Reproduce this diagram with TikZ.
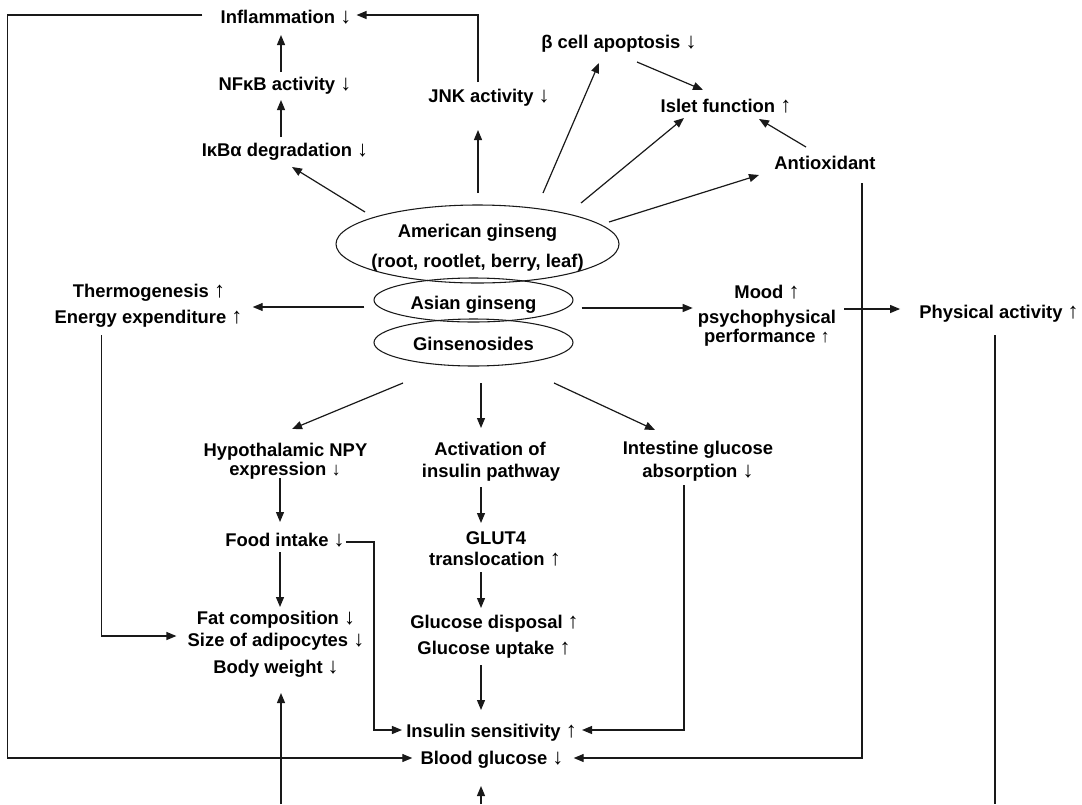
\documentclass[tikz,border=0pt]{standalone}
\usepackage{fontspec}
\setmainfont{Liberation Sans}
\usetikzlibrary{arrows.meta,shapes.geometric,calc}
\newcommand\arrdn{{\mdseries\fontsize{16.5}{16.5}\selectfont ↓}}
\newcommand\arrup{{\mdseries\fontsize{16.5}{16.5}\selectfont ↑}}
\newcommand\arrdnsm{{\mdseries ↓}}
\newcommand\arrupsm{{\mdseries ↑}}
\begin{document}
\begin{tikzpicture}[x=0.75pt,y=-0.75pt,
  txt/.style={font=\bfseries\fontsize{13.8}{16.5}\selectfont, inner sep=0pt, text height=10.5pt, text depth=2.9pt},
  ell/.style={draw=black!90, ellipse, line width=0.8pt, inner sep=0pt, font=\bfseries\fontsize{13.8}{16.5}\selectfont},
  conn/.style={line width=0.9pt, draw=black!90},
  arr/.style={conn, -{Triangle[length=7.5pt,width=6pt]}},
]
\useasboundingbox (0,0) rectangle (1082,804);

% top nodes
\node[txt] (infl) at (286,18) {Inflammation \arrdn};
\node[txt] (nfkb) at (285,85) {NFκB activity \arrdn};
\node[txt] (ikba) at (285,151) {IκBα degradation \arrdn};
\node[txt] (jnk) at (489,97) {JNK activity \arrdn};
\node[txt] (beta) at (619,43) {β cell apoptosis \arrdn};
\node[txt] (islet) at (726,107) {Islet function \arrup};
\node[txt] (antiox) at (825,164) {Antioxidant};

% ellipses
\node[ell, minimum width=212.25pt, minimum height=58.5pt] (amer) at (477.5,244) {};
\node[txt] (amer1) at (477.5,232) {American ginseng};
\node[txt] (amer2) at (477.5,262) {(root, rootlet, berry, leaf)};
\node[ell, minimum width=149.25pt, minimum height=33pt, text height=17.1pt, text depth=2.9pt] (asian) at (473.5,300) {Asian ginseng};
\node[ell, minimum width=149.25pt, minimum height=35.25pt, text height=14.9pt, text depth=2.9pt] (gins) at (473.5,342.5) {Ginsenosides};

% middle row
\node[txt] (thermo) at (149,292) {Thermogenesis \arrup};
\node[txt] (energy) at (148.5,318) {Energy expenditure \arrup};
\node[txt] (mood) at (767,293) {Mood \arrup};
\node[txt] (psy) at (767,318) {psychophysical};
\node[txt] (perf) at (767,337) {performance \arrupsm};
\node[txt] (phys) at (999,313) {Physical activity \arrup};

% lower part
\node[txt] (npy1) at (285.5,451) {Hypothalamic NPY};
\node[txt] (npy2) at (285,470) {expression \arrdnsm};
\node[txt] (act1) at (490,450) {Activation of};
\node[txt] (act2) at (491,472) {insulin pathway};
\node[txt] (int1) at (698,449) {Intestine glucose};
\node[txt] (int2) at (698,472) {absorption \arrdn};
\node[txt] (food) at (285,541) {Food intake \arrdn};
\node[txt] (glut1) at (496,539) {GLUT4};
\node[txt] (glut2) at (495,560) {translocation \arrup};
\node[txt] (fat1) at (276,619) {Fat composition \arrdn};
\node[txt] (fat2) at (276,641) {Size of adipocytes \arrdn};
\node[txt] (fat3) at (276,668) {Body weight \arrdn};
\node[txt] (gd1) at (494.5,623) {Glucose disposal \arrup};
\node[txt] (gd2) at (494,649) {Glucose uptake \arrup};
\node[txt] (ins) at (491.5,732) {Insulin sensitivity \arrup};
\node[txt] (bg) at (492,759) {Blood glucose \arrdn};

\coordinate (lrail) at (7.5,400);
\coordinate (physend) at (995,804);
\coordinate (bgsrc) at (481,804);
\coordinate (fatsrc) at (281,804);

% connectors
\draw[arr] ($(infl.west)+(-18,-3)$) -| (lrail) |- ($(bg.west)+(-8,-1)$);
\draw[arr] ($(nfkb)+(-4,-13)$) -- ($(infl)+(-5,17)$);
\draw[arr] ($(ikba)+(-4,-14)$) -- ($(nfkb)+(-4,15)$);
\draw[arr] ($(amer)+(-112.5,-32)$) -- ($(ikba)+(7,16)$);
\draw[arr] ($(amer)+(0.5,-51)$) -- ($(jnk)+(-11,33)$);
\draw[arr] ($(jnk)+(-11,-15)$) |- ($(infl.east)+(5,-3)$);
\draw[arr] ($(amer)+(65.5,-51)$) -- ($(beta)+(-20,20)$);
\draw[arr] ($(beta)+(18,19)$) -- ($(islet)+(-23,-17)$);
\draw[arr] ($(amer)+(103.5,-41)$) -- ($(islet)+(-42,11)$);
\draw[arr] ($(antiox)+(-19,-17)$) -- ($(islet)+(33,12)$);
\draw[arr] ($(amer)+(131.5,-22)$) -- ($(antiox)+(-66,11)$);
\draw[arr] ($(antiox)+(37,19)$) |- ($(bg.east)+(10,-1)$);

\draw[arr] ($(asian.west)+(-9,7)$) -- ($(energy.east)+(10,-11)$);
\draw[arr] ($(asian.east)+(8,8)$) -- ($(psy.west)+(-5,-10)$);
\draw[arr] ($(psy.east)+(8,-9)$) -- ($(phys.west)+(-19,-4)$);
\draw[conn] ($(phys)+(-4,22)$) -- (physend);
\draw[arr] ($(energy)+(-47,17)$) |- ($(fat2.west)+(-11,-5)$);

\draw[arr] ($(gins)+(-70.5,40.5)$) -- ($(npy1)+(6.5,-22)$);
\draw[arr] ($(gins)+(7.5,40.5)$) -- ($(act1)+(-9,-22)$);
\draw[arr] ($(gins)+(80.5,40.5)$) -- ($(int1)+(-43,-19)$);

\draw[arr] ($(npy2)+(-5,8)$) -- ($(food)+(-5,-19)$);
\draw[arr] ($(food)+(-5,11)$) -- ($(fat1)+(4,-12)$);
\draw[arr] ($(food.east)+(1,1)$) -- ++(28,0) |- ($(ins.west)+(-4,-2)$);
\draw[arr] ($(act2)+(-10,15)$) -- ($(glut1)+(-15,-16)$);
\draw[arr] ($(glut2)+(-14,12)$) -- ($(gd1)+(-13.5,-15)$);
\draw[arr] ($(gd2)+(-13,16)$) -- ($(ins)+(-10.5,-22)$);
\draw[arr] ($(int2)+(-14,13)$) |- ($(ins.east)+(5,-2)$);
\draw[arr] (bgsrc) -- ($(bg)+(-11,27)$);
\draw[arr] (fatsrc) -- ($(fat3)+(5,25)$);
\end{tikzpicture}
\end{document}
